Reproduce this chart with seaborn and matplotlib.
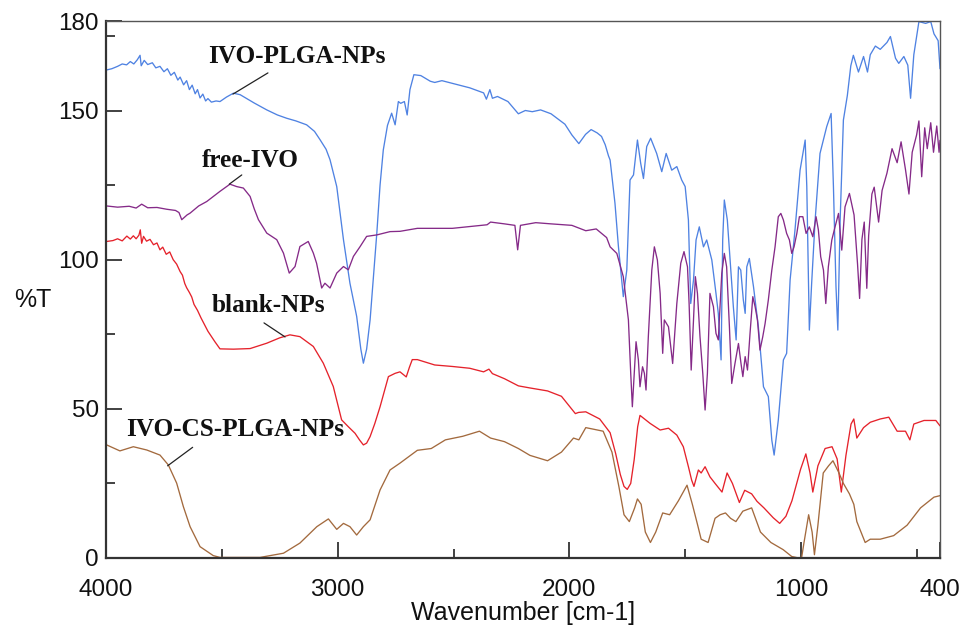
import matplotlib
matplotlib.use("Agg")
import matplotlib.pyplot as plt
import seaborn as sns
import pandas as pd
from matplotlib.ticker import FixedLocator

# ---------------- data (wavenumber cm-1, %T) ----------------
ivo_plga_wn = [3997, 3975, 3950, 3930, 3911, 3895, 3880, 3865, 3853, 3848, 3835, 3820, 3800, 3785, 3767, 3750, 3735, 3720, 3705, 3690, 3680, 3665, 3652, 3640, 3628, 3615, 3605, 3594, 3582, 3570, 3560, 3545, 3525, 3508, 3480, 3450, 3421, 3360, 3306, 3260, 3220, 3180, 3134, 3100, 3076, 3050, 3033, 3004, 2990, 2975, 2947, 2918, 2900, 2889, 2875, 2860, 2845, 2831, 2817, 2803, 2785, 2767, 2752, 2738, 2728, 2712, 2700, 2688, 2671, 2641, 2600, 2581, 2550, 2490, 2430, 2370, 2358, 2343, 2332, 2310, 2265, 2220, 2190, 2160, 2124, 2079, 2019, 1989, 1959, 1930, 1906, 1880, 1861, 1845, 1831, 1824, 1803, 1788, 1767, 1752, 1738, 1723, 1706, 1692, 1680, 1666, 1649, 1623, 1601, 1582, 1558, 1536, 1515, 1500, 1486, 1476, 1464, 1453, 1439, 1421, 1407, 1385, 1367, 1357, 1345, 1338, 1331, 1318, 1306, 1292, 1280, 1270, 1260, 1249, 1241, 1234, 1223, 1205, 1184, 1162, 1141, 1126, 1116, 1098, 1076, 1062, 1047, 1026, 1004, 982, 975, 964, 954, 939, 918, 889, 870, 860, 849, 841, 831, 817, 800, 785, 774, 752, 730, 713, 701, 679, 658, 629, 614, 592, 578, 556, 539, 527, 513, 491, 462, 440, 426, 408, 400]
ivo_plga_t = [163.6, 164.0, 164.8, 165.6, 165.3, 166.4, 165.6, 167.0, 168.5, 165.0, 166.8, 165.4, 166.0, 164.3, 164.8, 163.0, 164.0, 161.8, 162.8, 160.2, 161.2, 158.6, 160.0, 157.0, 158.5, 155.6, 157.0, 154.2, 155.5, 153.2, 154.0, 152.8, 153.2, 153.0, 154.5, 155.8, 155.3, 152.5, 150.2, 148.5, 147.4, 146.5, 145.2, 143.0, 140.2, 137.0, 133.5, 124.5, 116.0, 106.7, 92.1, 81.0, 70.0, 65.3, 70.0, 79.8, 95.0, 108.9, 125.0, 136.8, 145.0, 149.1, 145.2, 153.0, 152.4, 153.0, 148.5, 157.0, 162.0, 161.7, 159.8, 159.4, 160.0, 158.8, 157.6, 155.9, 153.8, 157.0, 154.1, 154.7, 153.0, 148.9, 150.0, 149.6, 150.2, 148.9, 145.4, 141.8, 138.9, 142.0, 143.6, 142.5, 141.3, 138.5, 134.8, 133.4, 118.9, 104.3, 87.6, 96.5, 126.7, 128.4, 140.1, 132.3, 127.2, 137.9, 140.7, 135.6, 129.5, 135.6, 130.0, 131.2, 126.7, 124.5, 113.3, 85.3, 93.2, 106.6, 111.0, 104.3, 106.6, 99.9, 88.7, 82.0, 66.4, 106.6, 120.0, 113.3, 99.9, 84.2, 73.1, 97.6, 96.5, 86.5, 82.0, 97.6, 100.4, 90.9, 77.5, 57.4, 54.1, 39.5, 34.5, 46.2, 66.4, 68.6, 93.2, 109.9, 130.0, 140.1, 124.5, 76.4, 92.1, 113.3, 135.6, 144.6, 149.0, 124.5, 91.0, 76.4, 113.3, 146.8, 155.0, 165.0, 168.5, 162.9, 168.1, 162.9, 168.7, 171.6, 170.5, 172.8, 174.8, 167.5, 165.8, 168.1, 165.2, 154.1, 168.7, 179.8, 179.2, 179.8, 175.7, 173.4, 164.0]

free_ivo_wn = [3997, 3950, 3900, 3870, 3846, 3820, 3780, 3738, 3700, 3685, 3673, 3650, 3637, 3600, 3565, 3508, 3465, 3436, 3407, 3378, 3360, 3342, 3306, 3263, 3234, 3209, 3184, 3163, 3127, 3105, 3091, 3069, 3055, 3033, 3004, 2975, 2954, 2932, 2903, 2875, 2831, 2774, 2731, 2656, 2505, 2355, 2340, 2280, 2235, 2223, 2211, 2145, 2079, 1989, 1929, 1884, 1839, 1824, 1795, 1767, 1745, 1735, 1728, 1720, 1712, 1702, 1695, 1684, 1676, 1669, 1659, 1644, 1633, 1620, 1608, 1597, 1590, 1572, 1554, 1536, 1519, 1505, 1490, 1483, 1474, 1464, 1456, 1447, 1436, 1424, 1414, 1404, 1393, 1378, 1367, 1357, 1342, 1331, 1321, 1309, 1299, 1285, 1270, 1259, 1251, 1241, 1231, 1220, 1208, 1198, 1188, 1177, 1165, 1155, 1141, 1126, 1112, 1098, 1087, 1076, 1062, 1050, 1040, 1030, 1018, 1007, 992, 978, 964, 949, 935, 925, 915, 903, 893, 882, 867, 853, 838, 824, 810, 791, 771, 756, 747, 737, 727, 716, 708, 694, 684, 665, 650, 629, 607, 585, 568, 549, 534, 520, 501, 491, 479, 466, 455, 440, 428, 414, 404, 400]
free_ivo_t = [118.0, 117.6, 117.9, 117.3, 118.6, 117.4, 117.5, 116.9, 116.5, 115.8, 113.4, 115.0, 115.6, 118.0, 119.5, 122.9, 125.3, 124.5, 124.0, 121.2, 117.0, 113.4, 108.9, 106.7, 102.2, 95.5, 97.7, 104.4, 106.1, 102.2, 98.8, 90.5, 92.1, 90.5, 95.5, 97.7, 96.6, 101.1, 104.4, 107.8, 108.3, 109.4, 109.5, 110.5, 110.5, 111.7, 112.6, 112.0, 111.5, 103.3, 111.5, 112.4, 112.0, 111.5, 109.7, 110.3, 107.4, 104.3, 102.1, 94.3, 79.8, 61.9, 50.7, 61.9, 72.5, 66.4, 57.4, 64.1, 61.9, 56.3, 74.2, 96.5, 104.3, 99.9, 88.7, 68.6, 79.8, 77.5, 65.2, 85.3, 98.8, 102.7, 97.6, 85.3, 63.0, 79.8, 94.3, 88.7, 74.2, 61.9, 49.6, 61.9, 88.7, 84.2, 75.3, 73.1, 95.4, 102.1, 97.6, 77.5, 58.5, 65.2, 71.9, 65.2, 60.8, 67.5, 63.0, 75.3, 87.6, 84.2, 79.8, 69.7, 74.2, 78.6, 86.5, 96.5, 104.3, 114.4, 115.5, 113.3, 108.8, 106.6, 102.1, 104.3, 108.8, 114.4, 114.4, 108.8, 111.0, 107.7, 114.4, 110.0, 101.0, 96.5, 85.3, 97.6, 106.6, 111.0, 115.5, 103.2, 117.7, 122.2, 115.0, 98.6, 87.0, 106.8, 112.6, 90.4, 108.0, 122.0, 124.3, 112.6, 123.2, 129.0, 137.2, 132.5, 139.5, 130.2, 122.0, 136.0, 141.8, 146.5, 127.8, 144.2, 137.2, 145.9, 136.0, 144.8, 136.0, 140.0]

blank_np_wn = [3997, 3970, 3950, 3930, 3910, 3895, 3882, 3870, 3858, 3852, 3846, 3838, 3825, 3810, 3795, 3780, 3767, 3755, 3740, 3725, 3710, 3695, 3680, 3670, 3660, 3652, 3640, 3630, 3620, 3605, 3590, 3560, 3530, 3508, 3450, 3378, 3306, 3250, 3206, 3163, 3105, 3062, 3019, 2983, 2954, 2925, 2905, 2889, 2875, 2860, 2840, 2817, 2781, 2752, 2731, 2704, 2690, 2678, 2656, 2581, 2505, 2430, 2370, 2347, 2332, 2280, 2220, 2170, 2094, 2034, 1974, 1960, 1929, 1869, 1824, 1800, 1780, 1764, 1750, 1735, 1720, 1705, 1695, 1651, 1608, 1572, 1536, 1508, 1486, 1472, 1462, 1443, 1431, 1414, 1393, 1371, 1341, 1319, 1296, 1266, 1243, 1213, 1190, 1160, 1120, 1092, 1065, 1039, 1002, 979, 961, 949, 927, 896, 866, 844, 826, 806, 784, 772, 759, 730, 701, 658, 621, 585, 549, 530, 513, 469, 418, 400]
blank_np_t = [106.1, 106.4, 107.0, 106.3, 107.9, 106.9, 108.0, 107.0, 108.2, 110.0, 105.5, 107.8, 106.2, 106.8, 105.0, 105.6, 103.3, 104.2, 101.8, 102.6, 100.0, 98.5, 96.0, 94.8, 92.0, 90.6, 89.0, 87.5, 85.0, 83.0, 80.5, 76.0, 72.5, 70.1, 70.0, 70.2, 72.0, 73.8, 74.8, 74.2, 70.9, 65.3, 57.5, 46.3, 44.0, 41.8, 39.5, 37.9, 38.5, 40.7, 45.0, 50.7, 60.8, 61.9, 62.4, 60.7, 64.0, 66.5, 66.5, 64.7, 64.2, 63.6, 62.4, 63.3, 61.8, 60.1, 57.7, 57.0, 56.0, 54.2, 48.4, 48.8, 49.0, 46.6, 42.0, 35.0, 28.0, 24.0, 23.0, 25.0, 33.0, 44.0, 47.8, 45.1, 42.9, 43.5, 41.2, 37.3, 30.6, 26.1, 24.0, 29.5, 28.5, 30.6, 27.2, 25.0, 22.1, 28.5, 25.0, 18.6, 22.7, 21.5, 19.0, 16.8, 13.5, 11.6, 14.0, 19.2, 29.7, 34.9, 28.5, 22.1, 30.9, 36.7, 37.3, 33.2, 22.1, 34.4, 44.9, 46.6, 40.2, 43.7, 45.5, 46.6, 47.2, 42.5, 42.5, 39.6, 44.9, 46.1, 46.1, 44.3]

ivo_cs_wn = [3997, 3940, 3882, 3824, 3767, 3731, 3695, 3666, 3637, 3594, 3537, 3508, 3335, 3234, 3163, 3090, 3040, 3004, 2975, 2947, 2918, 2889, 2860, 2817, 2774, 2731, 2656, 2596, 2535, 2460, 2388, 2340, 2280, 2220, 2170, 2094, 2034, 1982, 1959, 1929, 1891, 1854, 1816, 1786, 1764, 1741, 1718, 1706, 1690, 1672, 1650, 1627, 1597, 1567, 1529, 1492, 1469, 1446, 1431, 1401, 1371, 1349, 1326, 1304, 1281, 1251, 1213, 1175, 1130, 1077, 1040, 1010, 997, 987, 967, 952, 942, 927, 904, 881, 862, 836, 817, 791, 772, 759, 723, 701, 658, 600, 542, 484, 426, 400]
ivo_cs_t = [37.9, 35.9, 37.3, 36.2, 34.5, 31.2, 25.1, 17.2, 10.5, 3.8, 0.8, 0.2, 0.2, 1.6, 5.0, 10.5, 13.1, 9.6, 11.6, 10.5, 7.7, 10.5, 12.8, 22.8, 29.5, 31.8, 36.1, 36.7, 39.6, 40.8, 42.5, 40.2, 39.0, 36.7, 34.4, 32.6, 35.5, 40.2, 39.6, 43.7, 43.1, 42.5, 35.5, 23.9, 14.5, 12.2, 16.8, 19.8, 18.0, 8.7, 5.2, 8.7, 15.1, 14.5, 19.2, 24.4, 18.0, 11.0, 6.3, 5.2, 13.3, 14.5, 15.1, 13.3, 12.2, 15.7, 16.8, 8.7, 5.2, 2.8, 0.5, 0.0, 0.3, 5.2, 14.5, 8.7, 1.1, 11.0, 28.5, 30.9, 32.6, 28.5, 25.0, 21.5, 18.0, 12.2, 5.2, 6.3, 6.3, 7.5, 11.0, 16.8, 20.4, 20.9]

series_names = ["IVO-PLGA-NPs", "free-IVO", "blank-NPs", "IVO-CS-PLGA-NPs"]
x_major = [4000, 3000, 2000, 1000, 400]
x_minor = [3500, 2500, 1500, 500]
y_major = [0, 50, 100, 150, 180]
y_minor = [25, 75, 125, 175]

# label anchor (text left/baseline) and leader line ends, in data coords
label_pos = {"IVO-PLGA-NPs": (3560, 165.9), "free-IVO": (3586, 131.1),
             "blank-NPs": (3542, 82.5), "IVO-CS-PLGA-NPs": (3914, 40.9)}
leader = {"IVO-PLGA-NPs": ([3301, 3452], [162.6, 155.5]),
          "free-IVO": ([3414, 3468], [128.4, 125.3]),
          "blank-NPs": ([3318, 3227], [78.8, 74.1]),
          "IVO-CS-PLGA-NPs": ([3626, 3734], [37.1, 30.9])}

colors = {"IVO-PLGA-NPs": "#4f82e2", "free-IVO": "#852a88",
          "blank-NPs": "#e5222b", "IVO-CS-PLGA-NPs": "#a36a3e"}

# ---------------- plot ----------------
sns.set_style("ticks")
plt.rcParams["font.family"] = ["Liberation Sans", "DejaVu Sans"]

fig = plt.figure(figsize=(9.64, 6.35), dpi=100)
ax = fig.add_axes([106 / 964, 77 / 635, 834 / 964, 537 / 635])

data = {"IVO-PLGA-NPs": (ivo_plga_wn, ivo_plga_t),
        "free-IVO": (free_ivo_wn, free_ivo_t),
        "blank-NPs": (blank_np_wn, blank_np_t),
        "IVO-CS-PLGA-NPs": (ivo_cs_wn, ivo_cs_t)}

for name in series_names:
    wn, t = data[name]
    df = pd.DataFrame({"wn": wn, "T": t})
    sns.lineplot(data=df, x="wn", y="T", ax=ax, color=colors[name],
                 linewidth=0.95, sort=False, estimator=None)

ax.set_xlim(4000, 400)
ax.set_ylim(0, 180)
ax.set_xlabel("")
ax.set_ylabel("")

ax.xaxis.set_major_locator(FixedLocator(x_major))
ax.xaxis.set_minor_locator(FixedLocator(x_minor))
ax.yaxis.set_major_locator(FixedLocator(y_major))
ax.yaxis.set_minor_locator(FixedLocator(y_minor))
ax.set_xticklabels([str(v) for v in x_major])
ax.set_yticklabels([str(v) for v in y_major])

ax.tick_params(which="both", direction="in", top=False, right=False,
               color="#333333")
ax.tick_params(axis="x", which="major", length=11.5, width=1.3,
               labelsize=17.5, pad=15, labelcolor="#111111")
ax.tick_params(axis="y", which="major", length=11.5, width=1.3,
               labelsize=17.5, pad=5, labelcolor="#111111")
ax.tick_params(which="minor", length=6.5, width=1.3)

for side in ["left", "bottom"]:
    ax.spines[side].set_linewidth(1.6)
    ax.spines[side].set_color("#333333")
for side in ["top", "right"]:
    ax.spines[side].set_linewidth(1.0)
    ax.spines[side].set_color("#555555")

for name in series_names:
    x0, y0 = label_pos[name]
    ax.text(x0, y0, name, ha="left", va="baseline", fontsize=18.2,
            fontweight="bold", family=["Liberation Serif", "DejaVu Serif"],
            color="#111111")
    lx, ly = leader[name]
    ax.plot(lx, ly, color="#222222", linewidth=0.9)

fig.text(33 / 964, 1 - 300 / 635, "%T", ha="center", va="center",
         fontsize=18, color="#111111")
fig.text(523 / 964, 1 - 613 / 635, "Wavenumber [cm-1]", ha="center",
         va="center", fontsize=18, color="#111111")

fig.savefig("out.png", dpi=100)
